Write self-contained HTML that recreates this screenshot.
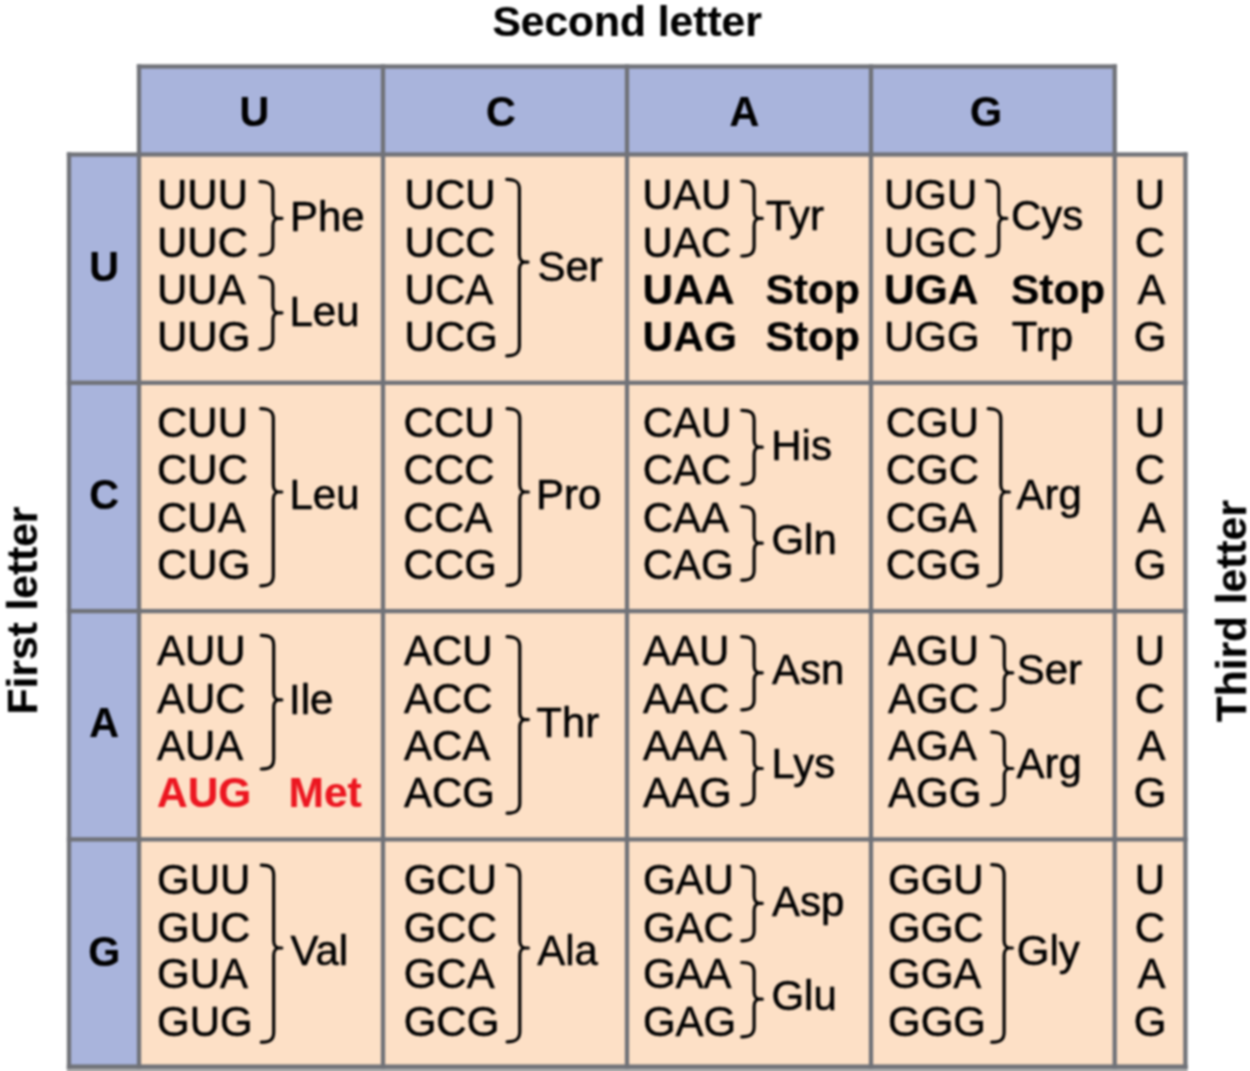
<!DOCTYPE html>
<html lang="en">
<head>
<meta charset="utf-8">
<title>The genetic code</title>
<style>
html,body{margin:0;padding:0;background:#fff;overflow:hidden;}
body{width:1250px;height:1071px;}
.figure{position:relative;width:1250px;height:1071px;overflow:hidden;background:#fff;}
svg{display:block;font-family:"Liberation Sans",sans-serif;filter:blur(0.8px);}
text{stroke:#000;stroke-width:0.55px;stroke-linejoin:round;}
text[font-weight]{stroke-width:0.2px;}
text[fill]{stroke:#ec1620;}
</style>
</head>
<body>
<div class="figure">
<svg width="1270" height="1091" viewBox="0 0 1270 1091">
<rect x="139" y="66.5" width="975.70" height="88.00" fill="#a9b4dc"/>
<rect x="69" y="154.5" width="70.00" height="912.10" fill="#a9b4dc"/>
<rect x="139" y="154.5" width="1046.40" height="912.10" fill="#fde0c6"/>
<rect x="66.8" y="1066" width="1120.8" height="25" fill="#b0b0b0"/>
<rect x="136.85" y="64.35" width="980.00" height="4.3" fill="#707278"/>
<rect x="66.85" y="152.35" width="1120.70" height="4.3" fill="#707278"/>
<rect x="66.85" y="380.65" width="1120.70" height="4.3" fill="#707278"/>
<rect x="66.85" y="608.95" width="1120.70" height="4.3" fill="#707278"/>
<rect x="66.85" y="837.25" width="1120.70" height="4.3" fill="#707278"/>
<rect x="66.85" y="1064.45" width="1120.70" height="4.3" fill="#707278"/>
<rect x="66.85" y="152.35" width="4.3" height="916.40" fill="#707278"/>
<rect x="136.85" y="64.35" width="4.3" height="1004.40" fill="#707278"/>
<rect x="380.85" y="64.35" width="4.3" height="1004.40" fill="#707278"/>
<rect x="624.85" y="64.35" width="4.3" height="1004.40" fill="#707278"/>
<rect x="868.85" y="64.35" width="4.3" height="1004.40" fill="#707278"/>
<rect x="1112.55" y="64.35" width="4.3" height="1004.40" fill="#707278"/>
<rect x="1183.25" y="152.35" width="4.3" height="916.40" fill="#707278"/>
<text x="627.1" y="35.5" font-size="42.5" font-weight="bold" text-anchor="middle">Second letter</text>
<text transform="translate(37,610.5) rotate(-90)" font-size="42.5" font-weight="bold" text-anchor="middle">First letter</text>
<text transform="translate(1246,611.3) rotate(-90)" font-size="42.5" font-weight="bold" text-anchor="middle">Third letter</text>
<text transform="translate(254.4,125.6) scale(1,1.015)" font-size="41.3" font-weight="bold" text-anchor="middle">U</text>
<text transform="translate(104.2,281.1) scale(1,1.015)" font-size="41.3" font-weight="bold" text-anchor="middle">U</text>
<text transform="translate(1149.8,209.3) scale(1,1.015)" font-size="42" text-anchor="middle">U</text>
<text transform="translate(1150.0,257.4) scale(1,1.015)" font-size="42" text-anchor="middle">C</text>
<text transform="translate(1151.5,304.0) scale(1,1.015)" font-size="42" text-anchor="middle">A</text>
<text transform="translate(1150.0,351.3) scale(1,1.015)" font-size="42" text-anchor="middle">G</text>
<text transform="translate(501.0,125.6) scale(1,1.015)" font-size="41.3" font-weight="bold" text-anchor="middle">C</text>
<text transform="translate(104.2,509.4) scale(1,1.015)" font-size="41.3" font-weight="bold" text-anchor="middle">C</text>
<text transform="translate(1149.8,436.7) scale(1,1.015)" font-size="42" text-anchor="middle">U</text>
<text transform="translate(1150.0,484.2) scale(1,1.015)" font-size="42" text-anchor="middle">C</text>
<text transform="translate(1151.5,532.0) scale(1,1.015)" font-size="42" text-anchor="middle">A</text>
<text transform="translate(1150.0,578.7) scale(1,1.015)" font-size="42" text-anchor="middle">G</text>
<text transform="translate(744.3,125.6) scale(1,1.015)" font-size="41.3" font-weight="bold" text-anchor="middle">A</text>
<text transform="translate(104.2,737.4) scale(1,1.015)" font-size="41.3" font-weight="bold" text-anchor="middle">A</text>
<text transform="translate(1149.8,665.2) scale(1,1.015)" font-size="42" text-anchor="middle">U</text>
<text transform="translate(1150.0,712.6) scale(1,1.015)" font-size="42" text-anchor="middle">C</text>
<text transform="translate(1151.5,760.3) scale(1,1.015)" font-size="42" text-anchor="middle">A</text>
<text transform="translate(1150.0,806.7) scale(1,1.015)" font-size="42" text-anchor="middle">G</text>
<text transform="translate(986.0,125.6) scale(1,1.015)" font-size="41.3" font-weight="bold" text-anchor="middle">G</text>
<text transform="translate(104.2,965.9) scale(1,1.015)" font-size="41.3" font-weight="bold" text-anchor="middle">G</text>
<text transform="translate(1149.8,894.1) scale(1,1.015)" font-size="42" text-anchor="middle">U</text>
<text transform="translate(1150.0,941.8) scale(1,1.015)" font-size="42" text-anchor="middle">C</text>
<text transform="translate(1151.5,987.9) scale(1,1.015)" font-size="42" text-anchor="middle">A</text>
<text transform="translate(1150.0,1035.5) scale(1,1.015)" font-size="42" text-anchor="middle">G</text>
<g fill="none" stroke="#000" stroke-width="3.2" stroke-linecap="round" stroke-linejoin="round">
<path d="M259.9 181.6 C267.9 181.6 272.9 183.6 272.9 191.6 L272.9 210.8 C272.9 215.3 274.9 218.3 278.4 218.3 L282.0 218.3 L278.4 218.3 C274.9 218.3 272.9 221.3 272.9 225.8 L272.9 245.0 C272.9 253.0 267.9 255.0 259.9 255.0"/>
<path d="M259.9 276.9 C267.9 276.9 272.9 278.9 272.9 286.9 L272.9 305.3 C272.9 309.8 274.9 312.8 278.4 312.8 L282.0 312.8 L278.4 312.8 C274.9 312.8 272.9 315.8 272.9 320.3 L272.9 339.2 C272.9 347.2 267.9 349.2 259.9 349.2"/>
<path d="M506.7 179.3 C514.7 179.3 519.4 181.3 519.4 189.3 L519.4 254.6 C519.4 259.1 521.4 262.1 524.9 262.1 L528.0 262.1 L524.9 262.1 C521.4 262.1 519.4 265.1 519.4 269.6 L519.4 345.8 C519.4 353.8 514.7 355.8 506.7 355.8"/>
<path d="M741.7 181.1 C749.7 181.1 754.1 183.1 754.1 191.1 L754.1 210.9 C754.1 215.4 756.1 218.4 759.6 218.4 L762.3 218.4 L759.6 218.4 C756.1 218.4 754.1 221.4 754.1 225.9 L754.1 246.0 C754.1 254.0 749.7 256.0 741.7 256.0"/>
<path d="M986.6 180.9 C994.6 180.9 998.8 182.9 998.8 190.9 L998.8 210.9 C998.8 215.4 1000.8 218.4 1004.3 218.4 L1006.8 218.4 L1004.3 218.4 C1000.8 218.4 998.8 221.4 998.8 225.9 L998.8 246.0 C998.8 254.0 994.6 256.0 986.6 256.0"/>
<path d="M260.7 408.7 C268.7 408.7 273.3 410.7 273.3 418.7 L273.3 484.5 C273.3 489.0 275.3 492.0 278.8 492.0 L281.8 492.0 L278.8 492.0 C275.3 492.0 273.3 495.0 273.3 499.5 L273.3 575.8 C273.3 583.8 268.7 585.8 260.7 585.8"/>
<path d="M507.1 408.7 C515.1 408.7 519.8 410.7 519.8 418.7 L519.8 484.5 C519.8 489.0 521.8 492.0 525.3 492.0 L528.4 492.0 L525.3 492.0 C521.8 492.0 519.8 495.0 519.8 499.5 L519.8 575.4 C519.8 583.4 515.1 585.4 507.1 585.4"/>
<path d="M741.7 410.3 C749.7 410.3 754.1 412.3 754.1 420.3 L754.1 439.7 C754.1 444.2 756.1 447.2 759.6 447.2 L762.3 447.2 L759.6 447.2 C756.1 447.2 754.1 450.2 754.1 454.7 L754.1 474.2 C754.1 482.2 749.7 484.2 741.7 484.2"/>
<path d="M741.7 506.5 C749.7 506.5 754.1 508.5 754.1 516.5 L754.1 535.7 C754.1 540.2 756.1 543.2 759.6 543.2 L762.3 543.2 L759.6 543.2 C756.1 543.2 754.1 546.2 754.1 550.7 L754.1 570.2 C754.1 578.2 749.7 580.2 741.7 580.2"/>
<path d="M988.2 408.7 C996.2 408.7 1000.8 410.7 1000.8 418.7 L1000.8 484.5 C1000.8 489.0 1002.8 492.0 1006.3 492.0 L1009.4 492.0 L1006.3 492.0 C1002.8 492.0 1000.8 495.0 1000.8 499.5 L1000.8 575.8 C1000.8 583.8 996.2 585.8 988.2 585.8"/>
<path d="M261.3 635.3 C269.3 635.3 273.7 637.3 273.7 645.3 L273.7 692.4 C273.7 696.9 275.7 699.9 279.2 699.9 L281.8 699.9 L279.2 699.9 C275.7 699.9 273.7 702.9 273.7 707.4 L273.7 759.0 C273.7 767.0 269.3 769.0 261.3 769.0"/>
<path d="M507.1 636.7 C515.1 636.7 519.8 638.7 519.8 646.7 L519.8 712.1 C519.8 716.6 521.8 719.6 525.3 719.6 L528.4 719.6 L525.3 719.6 C521.8 719.6 519.8 722.6 519.8 727.1 L519.8 803.2 C519.8 811.2 515.1 813.2 507.1 813.2"/>
<path d="M741.7 636.7 C749.7 636.7 754.1 638.7 754.1 646.7 L754.1 665.3 C754.1 669.8 756.1 672.8 759.6 672.8 L762.3 672.8 L759.6 672.8 C756.1 672.8 754.1 675.8 754.1 680.3 L754.1 699.8 C754.1 707.8 749.7 709.8 741.7 709.8"/>
<path d="M741.7 732.1 C749.7 732.1 754.1 734.1 754.1 742.1 L754.1 761.0 C754.1 765.5 756.1 768.5 759.6 768.5 L762.3 768.5 L759.6 768.5 C756.1 768.5 754.1 771.5 754.1 776.0 L754.1 794.8 C754.1 802.8 749.7 804.8 741.7 804.8"/>
<path d="M991.7 636.7 C999.7 636.7 1004.3 638.7 1004.3 646.7 L1004.3 665.3 C1004.3 669.8 1006.3 672.8 1009.8 672.8 L1012.8 672.8 L1009.8 672.8 C1006.3 672.8 1004.3 675.8 1004.3 680.3 L1004.3 699.8 C1004.3 707.8 999.7 709.8 991.7 709.8"/>
<path d="M991.7 732.1 C999.7 732.1 1004.3 734.1 1004.3 742.1 L1004.3 761.0 C1004.3 765.5 1006.3 768.5 1009.8 768.5 L1012.8 768.5 L1009.8 768.5 C1006.3 768.5 1004.3 771.5 1004.3 776.0 L1004.3 794.8 C1004.3 802.8 999.7 804.8 991.7 804.8"/>
<path d="M261.3 865.1 C269.3 865.1 273.7 867.1 273.7 875.1 L273.7 940.5 C273.7 945.0 275.7 948.0 279.2 948.0 L281.8 948.0 L279.2 948.0 C275.7 948.0 273.7 951.0 273.7 955.5 L273.7 1032.2 C273.7 1040.2 269.3 1042.2 261.3 1042.2"/>
<path d="M507.1 865.1 C515.1 865.1 519.8 867.1 519.8 875.1 L519.8 940.5 C519.8 945.0 521.8 948.0 525.3 948.0 L528.4 948.0 L525.3 948.0 C521.8 948.0 519.8 951.0 519.8 955.5 L519.8 1031.8 C519.8 1039.8 515.1 1041.8 507.1 1041.8"/>
<path d="M741.7 866.3 C749.7 866.3 754.1 868.3 754.1 876.3 L754.1 895.8 C754.1 900.3 756.1 903.3 759.6 903.3 L762.3 903.3 L759.6 903.3 C756.1 903.3 754.1 906.3 754.1 910.8 L754.1 930.8 C754.1 938.8 749.7 940.8 741.7 940.8"/>
<path d="M741.7 962.5 C749.7 962.5 754.1 964.5 754.1 972.5 L754.1 991.7 C754.1 996.2 756.1 999.2 759.6 999.2 L762.3 999.2 L759.6 999.2 C756.1 999.2 754.1 1002.2 754.1 1006.7 L754.1 1026.8 C754.1 1034.8 749.7 1036.8 741.7 1036.8"/>
<path d="M991.7 864.7 C999.7 864.7 1004.1 866.7 1004.1 874.7 L1004.1 940.5 C1004.1 945.0 1006.1 948.0 1009.6 948.0 L1012.4 948.0 L1009.6 948.0 C1006.1 948.0 1004.1 951.0 1004.1 955.5 L1004.1 1032.2 C1004.1 1040.2 999.7 1042.2 991.7 1042.2"/>
</g>
<text transform="translate(157.0,209.3) scale(1,1.015)" font-size="42">UUU</text>
<text transform="translate(157.0,257.4) scale(1,1.015)" font-size="42">UUC</text>
<text transform="translate(157.0,304.0) scale(1,1.015)" font-size="42">UUA</text>
<text transform="translate(157.0,351.3) scale(1,1.015)" font-size="42">UUG</text>
<text transform="translate(290.0,231.0) scale(1,1.015)" font-size="42">Phe</text>
<text transform="translate(289.5,325.7) scale(1,1.015)" font-size="42">Leu</text>
<text transform="translate(404.6,209.3) scale(1,1.015)" font-size="42">UCU</text>
<text transform="translate(404.6,257.4) scale(1,1.015)" font-size="42">UCC</text>
<text transform="translate(404.6,304.0) scale(1,1.015)" font-size="42">UCA</text>
<text transform="translate(404.6,351.3) scale(1,1.015)" font-size="42">UCG</text>
<text transform="translate(537.5,280.7) scale(1,1.015)" font-size="42">Ser</text>
<text transform="translate(642.6,209.3) scale(1,1.015)" font-size="42">UAU</text>
<text transform="translate(642.6,257.4) scale(1,1.015)" font-size="42">UAC</text>
<text transform="translate(642.6,304.0) scale(1,1.015)" font-size="42.5" font-weight="bold">UAA</text>
<text transform="translate(642.6,351.3) scale(1,1.015)" font-size="42.5" font-weight="bold">UAG</text>
<text transform="translate(765.7,230.3) scale(1,1.015)" font-size="42">Tyr</text>
<text transform="translate(765.5,304.0) scale(1,1.015)" font-size="42.5" font-weight="bold">Stop</text>
<text transform="translate(765.5,351.3) scale(1,1.015)" font-size="42.5" font-weight="bold">Stop</text>
<text transform="translate(884.0,209.3) scale(1,1.015)" font-size="42">UGU</text>
<text transform="translate(884.0,257.4) scale(1,1.015)" font-size="42">UGC</text>
<text transform="translate(884.0,304.0) scale(1,1.015)" font-size="42.5" font-weight="bold">UGA</text>
<text transform="translate(884.0,351.3) scale(1,1.015)" font-size="42">UGG</text>
<text transform="translate(1011.0,229.8) scale(1,1.015)" font-size="42">Cys</text>
<text transform="translate(1010.9,304.0) scale(1,1.015)" font-size="42.5" font-weight="bold">Stop</text>
<text transform="translate(1011.7,351.3) scale(1,1.015)" font-size="42">Trp</text>
<text transform="translate(157.0,436.7) scale(1,1.015)" font-size="42">CUU</text>
<text transform="translate(157.0,484.2) scale(1,1.015)" font-size="42">CUC</text>
<text transform="translate(157.0,532.0) scale(1,1.015)" font-size="42">CUA</text>
<text transform="translate(157.0,578.7) scale(1,1.015)" font-size="42">CUG</text>
<text transform="translate(289.5,508.5) scale(1,1.015)" font-size="42">Leu</text>
<text transform="translate(403.6,436.7) scale(1,1.015)" font-size="42">CCU</text>
<text transform="translate(403.6,484.2) scale(1,1.015)" font-size="42">CCC</text>
<text transform="translate(403.6,532.0) scale(1,1.015)" font-size="42">CCA</text>
<text transform="translate(403.6,578.7) scale(1,1.015)" font-size="42">CCG</text>
<text transform="translate(536.0,508.5) scale(1,1.015)" font-size="42">Pro</text>
<text transform="translate(642.7,436.7) scale(1,1.015)" font-size="42">CAU</text>
<text transform="translate(642.7,484.2) scale(1,1.015)" font-size="42">CAC</text>
<text transform="translate(642.7,532.0) scale(1,1.015)" font-size="42">CAA</text>
<text transform="translate(642.7,578.7) scale(1,1.015)" font-size="42">CAG</text>
<text transform="translate(771.3,459.9) scale(1,1.015)" font-size="42">His</text>
<text transform="translate(771.4,554.3) scale(1,1.015)" font-size="42">Gln</text>
<text transform="translate(885.7,436.7) scale(1,1.015)" font-size="42">CGU</text>
<text transform="translate(885.7,484.2) scale(1,1.015)" font-size="42">CGC</text>
<text transform="translate(885.7,532.0) scale(1,1.015)" font-size="42">CGA</text>
<text transform="translate(885.7,578.7) scale(1,1.015)" font-size="42">CGG</text>
<text transform="translate(1016.6,508.5) scale(1,1.015)" font-size="42">Arg</text>
<text transform="translate(157.0,665.2) scale(1,1.015)" font-size="42">AUU</text>
<text transform="translate(157.0,712.6) scale(1,1.015)" font-size="42">AUC</text>
<text transform="translate(157.0,760.3) scale(1,1.015)" font-size="42">AUA</text>
<text transform="translate(157.0,806.7) scale(1,1.015)" font-size="42.5" font-weight="bold" fill="#ec1620">AUG</text>
<text transform="translate(289.1,714.4) scale(1,1.015)" font-size="42">Ile</text>
<text transform="translate(288.6,806.7) scale(1,1.015)" font-size="42.5" font-weight="bold" fill="#ec1620">Met</text>
<text transform="translate(403.9,665.2) scale(1,1.015)" font-size="42">ACU</text>
<text transform="translate(403.9,712.6) scale(1,1.015)" font-size="42">ACC</text>
<text transform="translate(403.9,760.3) scale(1,1.015)" font-size="42">ACA</text>
<text transform="translate(403.9,806.7) scale(1,1.015)" font-size="42">ACG</text>
<text transform="translate(536.3,736.5) scale(1,1.015)" font-size="42">Thr</text>
<text transform="translate(643.0,665.2) scale(1,1.015)" font-size="42">AAU</text>
<text transform="translate(643.0,712.6) scale(1,1.015)" font-size="42">AAC</text>
<text transform="translate(643.0,760.3) scale(1,1.015)" font-size="42">AAA</text>
<text transform="translate(643.0,806.7) scale(1,1.015)" font-size="42">AAG</text>
<text transform="translate(772.0,683.9) scale(1,1.015)" font-size="42">Asn</text>
<text transform="translate(771.5,778.2) scale(1,1.015)" font-size="42">Lys</text>
<text transform="translate(888.0,665.2) scale(1,1.015)" font-size="42">AGU</text>
<text transform="translate(888.0,712.6) scale(1,1.015)" font-size="42">AGC</text>
<text transform="translate(888.0,760.3) scale(1,1.015)" font-size="42">AGA</text>
<text transform="translate(888.0,806.7) scale(1,1.015)" font-size="42">AGG</text>
<text transform="translate(1016.7,683.9) scale(1,1.015)" font-size="42">Ser</text>
<text transform="translate(1016.6,778.2) scale(1,1.015)" font-size="42">Arg</text>
<text transform="translate(157.0,894.1) scale(1,1.015)" font-size="42">GUU</text>
<text transform="translate(157.0,941.8) scale(1,1.015)" font-size="42">GUC</text>
<text transform="translate(157.0,987.9) scale(1,1.015)" font-size="42">GUA</text>
<text transform="translate(157.0,1035.5) scale(1,1.015)" font-size="42">GUG</text>
<text transform="translate(290.5,964.5) scale(1,1.015)" font-size="42">Val</text>
<text transform="translate(403.7,894.1) scale(1,1.015)" font-size="42">GCU</text>
<text transform="translate(403.7,941.8) scale(1,1.015)" font-size="42">GCC</text>
<text transform="translate(403.7,987.9) scale(1,1.015)" font-size="42">GCA</text>
<text transform="translate(403.7,1035.5) scale(1,1.015)" font-size="42">GCG</text>
<text transform="translate(537.2,964.5) scale(1,1.015)" font-size="42">Ala</text>
<text transform="translate(642.9,894.1) scale(1,1.015)" font-size="42">GAU</text>
<text transform="translate(642.9,941.8) scale(1,1.015)" font-size="42">GAC</text>
<text transform="translate(642.9,987.9) scale(1,1.015)" font-size="42">GAA</text>
<text transform="translate(642.9,1035.5) scale(1,1.015)" font-size="42">GAG</text>
<text transform="translate(772.0,915.9) scale(1,1.015)" font-size="42">Asp</text>
<text transform="translate(771.4,1010.3) scale(1,1.015)" font-size="42">Glu</text>
<text transform="translate(888.0,894.1) scale(1,1.015)" font-size="42">GGU</text>
<text transform="translate(888.0,941.8) scale(1,1.015)" font-size="42">GGC</text>
<text transform="translate(888.0,987.9) scale(1,1.015)" font-size="42">GGA</text>
<text transform="translate(888.0,1035.5) scale(1,1.015)" font-size="42">GGG</text>
<text transform="translate(1016.8,964.5) scale(1,1.015)" font-size="42">Gly</text>
</svg>
</div>
</body>
</html>
